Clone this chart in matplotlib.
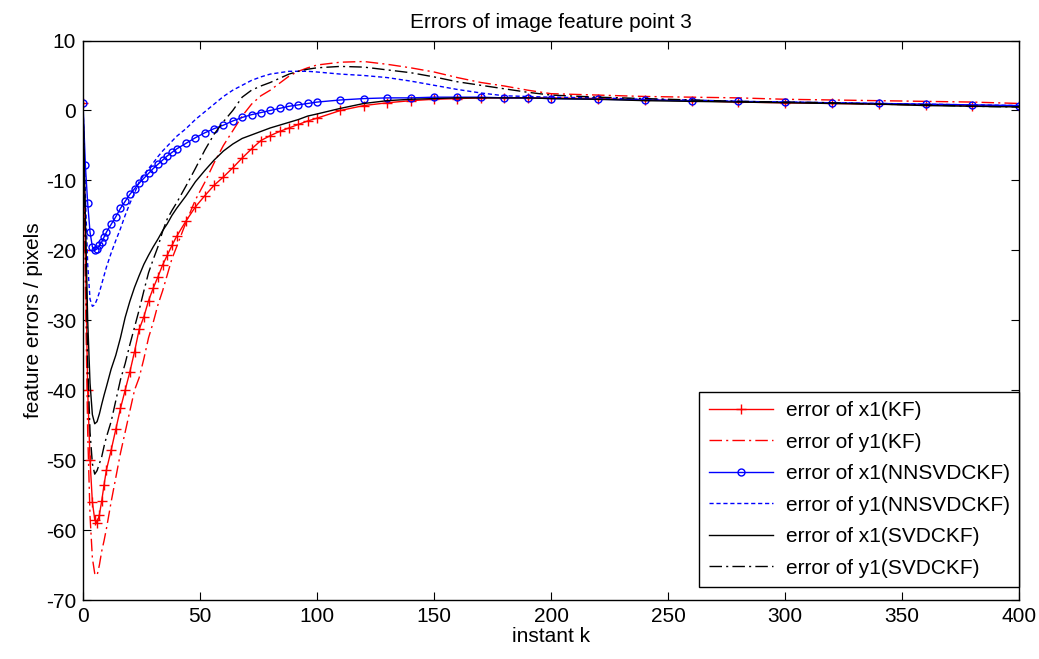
import numpy as np
import matplotlib
matplotlib.use('Agg')
import matplotlib.pyplot as plt

plt.rcParams['font.family'] = ['Liberation Sans', 'DejaVu Sans']
plt.rcParams['axes.unicode_minus'] = False

k = [0, 1, 2, 3, 4, 5, 6, 7, 8, 9, 10,
     12, 14, 16, 18, 20, 22, 24, 26, 28, 30, 32, 34, 36, 38, 40,
     44, 48, 52, 56, 60, 64, 68, 72, 76, 80, 84, 88, 92, 96, 100,
     110, 120, 130, 140, 150, 160, 170, 180, 190, 200,
     220, 240, 260, 280, 300, 320, 340, 360, 380, 400]

x1_kf = [1, -20, -40, -50, -56, -58.5, -59, -57.8, -55.8, -53.5, -51.4,
         -48.6, -45.6, -42.6, -40, -37.4, -34.5, -31.3, -29.5, -27.2, -25.4, -23.8, -22.1, -20.7, -19.3, -18,
         -15.8, -13.8, -12.2, -10.7, -9.5, -8.2, -6.8, -5.5, -4.3, -3.6, -3, -2.5, -2, -1.5, -1.1,
         0, 0.7, 1.1, 1.4, 1.6, 1.7, 1.8, 1.8, 1.8, 1.8,
         1.7, 1.5, 1.4, 1.2, 1.1, 1.0, 0.9, 0.8, 0.7, 0.6]

y1_kf = [1, -25, -46, -58, -64, -66.2, -66.5, -65, -63, -61.5, -59.8,
         -56, -52.5, -49, -46, -43, -40, -38.2, -35.5, -32.5, -30.3, -27.8, -25.8, -23.5, -21.2, -19.5,
         -16, -12.8, -10.3, -7.5, -5, -2.9, -0.8, 0.9, 2.1, 2.9, 3.9, 4.9, 5.6, 6.1, 6.5,
         6.9, 7, 6.6, 6.1, 5.5, 4.7, 4, 3.5, 2.9, 2.4,
         2.2, 2.0, 1.9, 1.8, 1.6, 1.5, 1.4, 1.3, 1.2, 1.0]

x1_nn = [1, -7.8, -13.3, -17.4, -19.5, -20, -19.8, -19.3, -18.8, -18.1, -17.4,
         -16.3, -15.2, -14, -13, -12, -11.2, -10.4, -9.7, -9, -8.3, -7.7, -7.1, -6.5, -6, -5.5,
         -4.7, -3.9, -3.2, -2.6, -2.1, -1.5, -1, -0.6, -0.3, 0, 0.3, 0.6, 0.8, 1, 1.2,
         1.5, 1.7, 1.8, 1.8, 1.9, 1.9, 1.9, 1.8, 1.8, 1.7,
         1.6, 1.5, 1.4, 1.3, 1.2, 1.1, 1.0, 0.9, 0.8, 0.7]

y1_nn = [1, -12, -22, -27, -28, -27.8, -27, -26, -24.8, -23.6, -22.4,
         -20.4, -18.6, -16.9, -15, -13.3, -11.8, -10.2, -9.2, -8.3, -7.5, -6.6, -5.8, -5.1, -4.4, -3.7,
         -2.6, -1.3, -0.2, 0.9, 2.0, 2.9, 3.6, 4.3, 4.8, 5.2, 5.4, 5.6, 5.6, 5.6, 5.5,
         5.2, 5, 4.7, 4.2, 3.6, 3.0, 2.5, 2.1, 2.0, 1.9,
         1.8, 1.6, 1.5, 1.3, 1.2, 1.1, 1.0, 0.9, 0.8, 0.7]

x1_svd = [1, -15, -30, -39, -43.5, -44.8, -44.5, -43.4, -42, -40.7, -39.5,
          -37, -35, -32.5, -29.6, -27.3, -25.3, -23.6, -22, -20.7, -19.5, -18.4, -17.2, -16.2, -15, -14,
          -12.2, -10.2, -8.6, -7.1, -5.8, -4.8, -4, -3.5, -3, -2.5, -2.1, -1.7, -1.3, -0.8, -0.5,
          0.3, 1, 1.4, 1.6, 1.7, 1.8, 1.8, 1.8, 1.8, 1.7,
          1.6, 1.4, 1.3, 1.2, 1.1, 1.0, 0.9, 0.7, 0.6, 0.5]

y1_svd = [1, -18, -36, -46, -50.5, -52, -51.5, -50.5, -49.5, -48, -46.7,
          -44.5, -41.5, -38.5, -36.2, -33.5, -31, -28.5, -25.8, -23.2, -21.3, -19.5, -17.3, -15.5, -14.3, -13.2,
          -10.8, -8.3, -5.7, -3.4, -1.6, 0, 1.9, 2.9, 3.5, 4, 4.6, 5.2, 5.6, 5.9, 6.1,
          6.3, 6.2, 5.8, 5.4, 4.8, 4.1, 3.6, 3.1, 2.6, 2.2,
          1.9, 1.7, 1.5, 1.3, 1.2, 1.1, 0.9, 0.8, 0.6, 0.5]

labels = ['error of x1(KF)', 'error of y1(KF)', 'error of x1(NNSVDCKF)',
          'error of y1(NNSVDCKF)', 'error of x1(SVDCKF)', 'error of y1(SVDCKF)']

dashdot = (0, (9, 3, 1.5, 3))
fs = 15

fig = plt.figure(figsize=(10.39, 6.59), dpi=100)
ax = fig.add_axes([0.0799, 0.0895, 0.901, 0.849])

ax.plot(k, x1_kf, color='red', lw=1, marker='+', ms=7, mew=1, label=labels[0])
ax.plot(k, y1_kf, color='red', lw=1, linestyle=dashdot, label=labels[1])
ax.plot(k, x1_nn, color='blue', lw=1, marker='o', ms=5, mfc='none', mew=1, label=labels[2])
ax.plot(k, y1_nn, color='blue', lw=1, linestyle=(0, (3, 2)), label=labels[3])
ax.plot(k, x1_svd, color='black', lw=1, label=labels[4])
ax.plot(k, y1_svd, color='black', lw=1, linestyle=dashdot, label=labels[5])

ax.set_xlim(0, 400)
ax.set_ylim(-70, 10)
ax.set_xticks(np.arange(0, 401, 50))
ax.set_yticks(np.arange(-70, 11, 10))
ax.tick_params(direction='in', top=True, right=True, length=6, labelsize=fs, pad=5)
for s in ax.spines.values():
    s.set_linewidth(1)

ax.set_title('Errors of image feature point 3', fontsize=fs, pad=9)
ax.set_xlabel('instant k', fontsize=fs, labelpad=1)
ax.set_ylabel('feature errors / pixels', fontsize=fs, labelpad=2)

leg = ax.legend(loc='lower right', bbox_to_anchor=(1.0, 0.023), borderaxespad=0,
                fontsize=fs, handlelength=3.1, handletextpad=0.6, labelspacing=0.6,
                fancybox=False, framealpha=1, edgecolor='black', borderpad=0.45)
leg.get_frame().set_linewidth(1)

fig.savefig('out.png', dpi=100)
